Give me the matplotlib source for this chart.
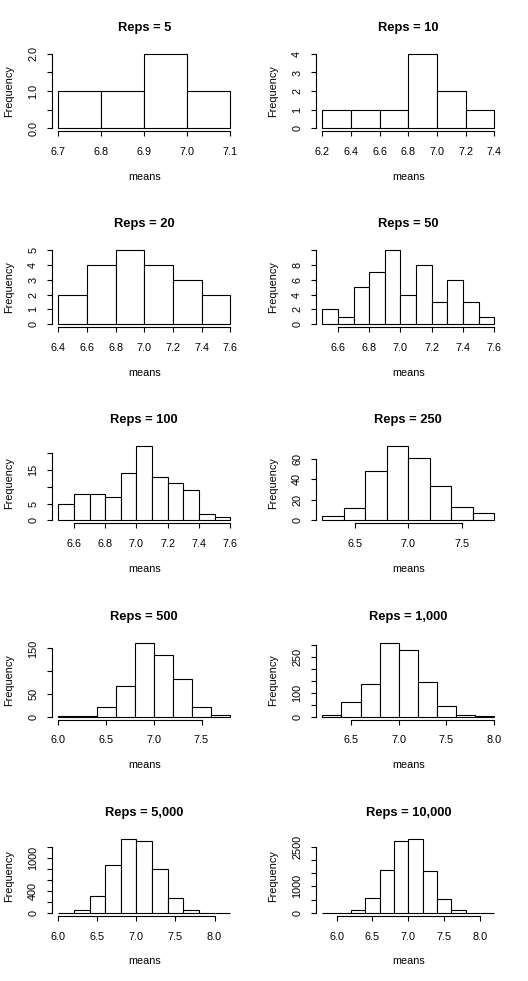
import matplotlib
matplotlib.use('Agg')
import matplotlib.pyplot as plt
import numpy as np

plt.rcParams['font.family'] = ['Liberation Sans', 'DejaVu Sans']

# ---- data ----
reps_labels = ['5', '10', '20', '50', '100', '250', '500', '1,000', '5,000', '10,000']
bin_start = [6.7, 6.2, 6.4, 6.5, 6.5, 6.2, 6.0, 6.2, 6.0, 5.8]
bin_width = [0.1, 0.2, 0.2, 0.1, 0.1, 0.2, 0.2, 0.2, 0.2, 0.2]
counts_5 = [1, 1, 2, 1]
counts_10 = [1, 1, 1, 4, 2, 1]
counts_20 = [2, 4, 5, 4, 3, 2]
counts_50 = [2, 1, 5, 7, 10, 4, 8, 3, 6, 3, 1]
counts_100 = [5, 8, 8, 7, 14, 22, 13, 11, 9, 2, 1]
counts_250 = [4, 12, 48, 72, 61, 33, 13, 7]
counts_500 = [1, 1, 22, 68, 163, 136, 83, 22, 4]
counts_1000 = [7, 62, 138, 311, 280, 147, 45, 7, 3]
counts_5000 = [1, 48, 303, 867, 1350, 1315, 794, 267, 48, 6, 1]
counts_10000 = [0, 5, 100, 555, 1618, 2720, 2800, 1576, 517, 100, 8, 1]
counts = [counts_5, counts_10, counts_20, counts_50, counts_100,
          counts_250, counts_500, counts_1000, counts_5000, counts_10000]

xticks = [
    [6.7, 6.8, 6.9, 7.0, 7.1],
    [6.2, 6.4, 6.6, 6.8, 7.0, 7.2, 7.4],
    [6.4, 6.6, 6.8, 7.0, 7.2, 7.4, 7.6],
    [6.6, 6.8, 7.0, 7.2, 7.4, 7.6],
    [6.6, 6.8, 7.0, 7.2, 7.4, 7.6],
    [6.5, 7.0, 7.5],
    [6.0, 6.5, 7.0, 7.5],
    [6.5, 7.0, 7.5, 8.0],
    [6.0, 6.5, 7.0, 7.5, 8.0],
    [6.0, 6.5, 7.0, 7.5, 8.0],
]
yticks = [
    [0, 0.5, 1.0, 1.5, 2.0],
    [0, 1, 2, 3, 4],
    [0, 1, 2, 3, 4, 5],
    [0, 2, 4, 6, 8, 10],
    [0, 5, 10, 15, 20],
    [0, 20, 40, 60],
    [0, 50, 100, 150],
    [0, 50, 100, 150, 200, 250, 300],
    [0, 200, 400, 600, 800, 1000, 1200],
    [0, 500, 1000, 1500, 2000, 2500],
]
ylabels = [
    ['0.0', '', '1.0', '', '2.0'],
    ['0', '1', '2', '3', '4'],
    ['0', '1', '2', '3', '4', '5'],
    ['0', '2', '4', '6', '8', ''],
    ['0', '5', '', '15', ''],
    ['0', '20', '40', '60'],
    ['0', '50', '', '150'],
    ['0', '', '100', '', '', '250', ''],
    ['0', '', '400', '', '', '1000', ''],
    ['0', '', '1000', '', '', '2500'],
]

# ---- layout ----
W, H = 528, 981
fig = plt.figure(figsize=(W / 100, H / 100), dpi=100)
fig.patch.set_facecolor('white')

cell_w, cell_h = 264, 981 / 5
ax_left, ax_w = 51.5, 185.5
ax_top, ax_h = 51.0, 80.0
fs = 7.8
lw = 0.8
px = 0.72  # points per pixel

for i in range(10):
    row, col = divmod(i, 2)
    left = col * cell_w + ax_left
    top = row * cell_h + ax_top
    ax = fig.add_axes([left / W, 1 - (top + ax_h) / H, ax_w / W, ax_h / H])
    c = counts[i]
    edges = np.round(bin_start[i] + bin_width[i] * np.arange(len(c) + 1), 4)
    ax.bar(edges[:-1], c, width=bin_width[i], align='edge',
           facecolor='white', edgecolor='black', linewidth=lw)
    span = edges[-1] - edges[0]
    ax.set_xlim(edges[0] - 0.04 * span, edges[-1] + 0.04 * span)
    m = max(c)
    ax.set_ylim(-0.04 * m, 1.04 * m)

    for s in ['top', 'right']:
        ax.spines[s].set_visible(False)
    ax.spines['left'].set_bounds(yticks[i][0], yticks[i][-1])
    ax.spines['bottom'].set_bounds(xticks[i][0], xticks[i][-1])
    ax.spines['left'].set_linewidth(lw)
    ax.spines['bottom'].set_linewidth(lw)

    ax.set_xticks(xticks[i])
    ax.set_xticklabels([f'{v:.1f}' for v in xticks[i]], fontsize=fs)
    ax.set_yticks(yticks[i])
    ax.set_yticklabels(ylabels[i], fontsize=fs, rotation=90, va='center')
    ax.tick_params(axis='both', direction='out', length=3.6, width=lw, colors='black')
    ax.tick_params(axis='x', pad=7.8)
    ax.tick_params(axis='y', pad=6.0)

    ax.annotate(f'Reps = {reps_labels[i]}', xy=(0.5, 1), xycoords='axes fraction',
                xytext=(0, 23 * px), textcoords='offset points',
                ha='center', va='center', fontsize=9.3, fontweight='bold')
    ax.annotate('means', xy=(0.5, 0), xycoords='axes fraction',
                xytext=(0, -45.5 * px), textcoords='offset points',
                ha='center', va='center', fontsize=fs)
    ax.annotate('Frequency', xy=(0, 0.5), xycoords='axes fraction',
                xytext=(-42.8 * px, 0), textcoords='offset points',
                ha='center', va='center', fontsize=fs, rotation=90)

fig.savefig('out.png', dpi=100, facecolor='white')
